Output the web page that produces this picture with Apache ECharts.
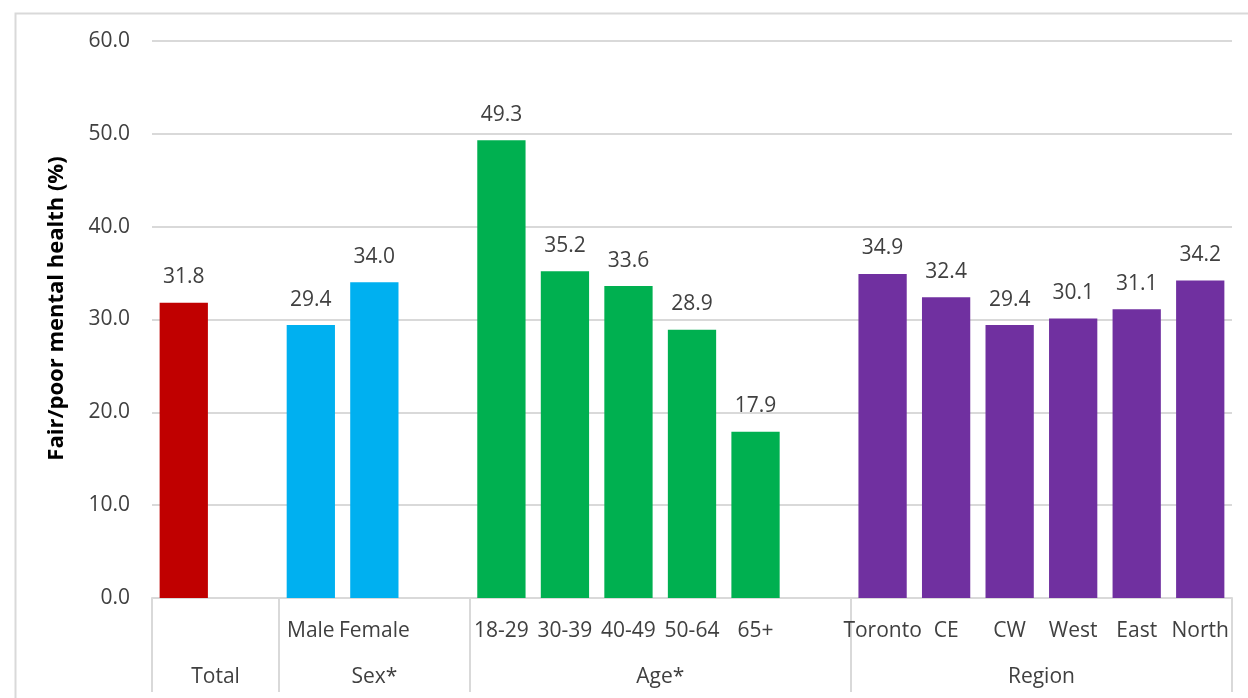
<!DOCTYPE html>
<html>
<head>
<meta charset="utf-8">
<script src="https://cdn.jsdelivr.net/npm/echarts@6/dist/echarts.min.js"></script>
<style>
html,body{margin:0;padding:0;background:#fff;}
#chart{width:1248px;height:698px;}
</style>
</head>
<body>
<div id="chart"></div>
<script>
// Category slots (empty strings are spacer slots between groups; the Total bar has no first-row label)
const categories = ['', '', 'Male', 'Female', '', '18-29', '30-39', '40-49', '50-64', '65+', '', 'Toronto', 'CE', 'CW', 'West', 'East', 'North'];
// Values (null for spacer slots)
const values = [31.8, null, 29.4, 34.0, null, 49.3, 35.2, 33.6, 28.9, 17.9, null, 34.9, 32.4, 29.4, 30.1, 31.1, 34.2];
// Group index of each slot
const slotGroup = [0, 0, 1, 1, 1, 2, 2, 2, 2, 2, 2, 3, 3, 3, 3, 3, 3];
// Group labels and boundaries (slot indices)
const groupNames = ['Total', 'Sex*', 'Age*', 'Region'];
const groupBounds = [0, 2, 5, 11, 17];
const groupColors = ['#C00000', '#00B0F0', '#00B050', '#7030A0'];
const yTicks = [0, 10, 20, 30, 40, 50, 60];

const groupCenters = groupNames.map((_, i) => (groupBounds[i] + groupBounds[i + 1]) / 2);

const FONT = "'Open Sans', 'Liberation Sans', sans-serif";
const FS = 21;
const chart = echarts.init(document.getElementById('chart'), null, {renderer: 'canvas'});

const option = {
  animation: false,
  backgroundColor: '#fff',
  graphic: [{
    type: 'rect', left: 13, top: 11,
    shape: {width: 1400, height: 900},
    style: {fill: 'none', stroke: '#d9d9d9', lineWidth: 2},
    silent: true, z: -1
  }],
  grid: {left: 152, right: 16, top: 41, bottom: 100, containLabel: false},
  xAxis: [{
    type: 'category',
    data: categories,
    position: 'bottom',
    axisLine: {show: true, lineStyle: {color: '#d9d9d9', width: 2}},
    axisTick: {show: false},
    axisLabel: {
      interval: 0, margin: 23, color: '#404040',
      fontFamily: FONT, fontSize: FS
    }
  }, {
    type: 'value',
    min: 0, max: categories.length,
    position: 'bottom',
    axisLine: {show: false},
    splitLine: {show: false},
    axisTick: {
      show: true, length: 94, inside: false,
      customValues: groupBounds,
      lineStyle: {color: '#d9d9d9', width: 2}
    },
    axisLabel: {
      customValues: groupCenters,
      margin: 69, color: '#404040',
      fontFamily: FONT, fontSize: FS,
      formatter: function (v) {
        const i = groupCenters.indexOf(v);
        return i >= 0 ? groupNames[i] : '';
      }
    }
  }],
  yAxis: {
    type: 'value',
    min: yTicks[0], max: yTicks[yTicks.length - 1], interval: 10,
    name: 'Fair/poor mental health (%)',
    nameLocation: 'middle',
    nameGap: 84,
    nameTextStyle: {
      fontFamily: FONT, fontSize: 22, fontWeight: 'bold', color: '#000',
      padding: [0, 0, 0, 22]
    },
    axisLine: {show: false},
    axisTick: {show: false},
    splitLine: {lineStyle: {color: '#d9d9d9', width: 2}},
    axisLabel: {
      margin: 22, color: '#404040',
      fontFamily: FONT, fontSize: FS,
      formatter: v => v.toFixed(1)
    }
  },
  series: [{
    type: 'bar',
    xAxisIndex: 0,
    barCategoryGap: '24%',
    data: values.map((v, i) => v === null ? '-' : {
      value: v,
      itemStyle: {color: groupColors[slotGroup[i]]}
    }),
    label: {
      show: true, position: 'top', distance: 15,
      color: '#404040', fontFamily: FONT, fontSize: FS,
      formatter: p => Number(p.value).toFixed(1)
    }
  }]
};
chart.setOption(option);
</script>
</body>
</html>
